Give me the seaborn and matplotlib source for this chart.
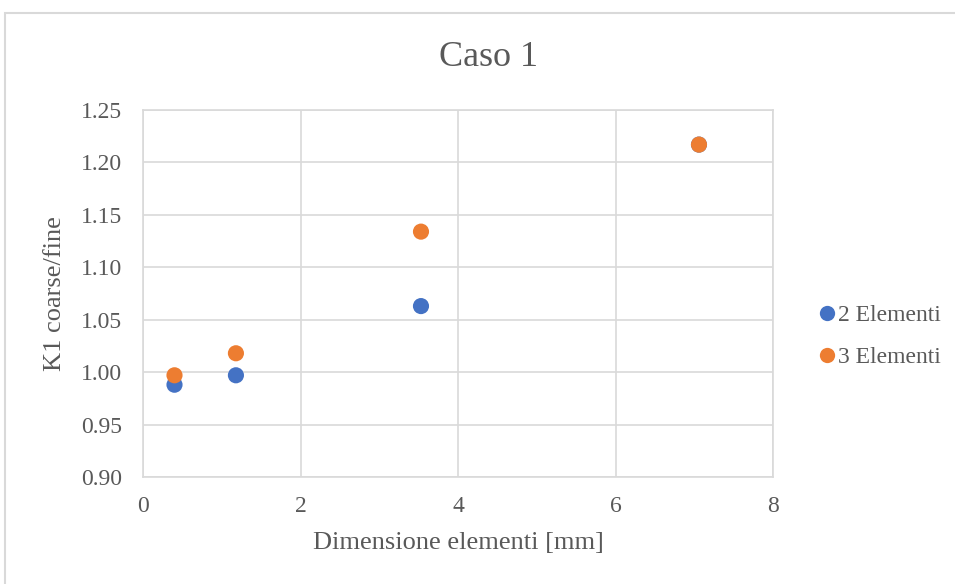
import matplotlib
matplotlib.use("Agg")
import matplotlib.pyplot as plt
import matplotlib.patches as mpatches
import seaborn as sns
import pandas as pd

# Element size [mm] and K1 ratio (coarse/fine) for each mesh
dim_2el = [0.40, 1.18, 3.53, 7.06]
k1_2el = [0.988, 0.997, 1.063, 1.217]
dim_3el = [0.40, 1.18, 3.53, 7.06]
k1_3el = [0.997, 1.018, 1.134, 1.217]
series_names = ["2 Elementi", "3 Elementi"]
x_ticks = [0, 2, 4, 6, 8]
y_ticks = [0.90, 0.95, 1.00, 1.05, 1.10, 1.15, 1.20, 1.25]

df = pd.DataFrame({
    "dim": dim_2el + dim_3el,
    "k1": k1_2el + k1_3el,
    "serie": [series_names[0]] * len(dim_2el) + [series_names[1]] * len(dim_3el),
})

sns.set_theme(style="white")
plt.rcParams["font.family"] = ["Liberation Serif", "DejaVu Serif"]
text_col = "#595959"
grid_col = "#d9d9d9"
colors = {series_names[0]: "#4472C4", series_names[1]: "#ED7D31"}

fig = plt.figure(figsize=(9.55, 5.84), dpi=100)
ax = fig.add_axes([143 / 955, 1 - 477 / 584, 630 / 955, 367 / 584])

sns.scatterplot(
    data=df, x="dim", y="k1", hue="serie", ax=ax, palette=colors,
    s=135, linewidth=0, zorder=3, legend=False,
)

ax.set_xlim(0, 8)
ax.set_ylim(0.90, 1.25)
ax.set_xticks(x_ticks)
ax.set_yticks(y_ticks)
ax.set_yticklabels([f"{v:.2f}" for v in y_ticks])
ax.grid(True, color=grid_col, linewidth=1.2, zorder=0)
for sp in ax.spines.values():
    sp.set_color(grid_col)
    sp.set_linewidth(1.2)
ax.tick_params(axis="both", colors=text_col, labelsize=17, length=0)
ax.tick_params(axis="y", pad=15)
ax.tick_params(axis="x", pad=14)

ax.set_xlabel("Dimensione elementi [mm]", fontsize=19, color=text_col, va="center")
ax.xaxis.set_label_coords(0.5, (477 - 543) / 367)
ax.set_ylabel("K1 coarse/fine", fontsize=19, color=text_col, va="center")
ax.yaxis.set_label_coords((55 - 143) / 630, 0.5)

fig.text(488 / 955, 1 - 58 / 584, "Caso 1", fontsize=26, color=text_col,
         ha="center", va="center")

handles = [
    plt.Line2D([], [], marker="o", linestyle="", markersize=11,
               markerfacecolor=colors[n], markeredgewidth=0)
    for n in series_names
]
leg = fig.legend(
    handles, series_names, loc="center left",
    bbox_to_anchor=(820 / 955, 1 - 336.5 / 584), frameon=False,
    borderpad=0, borderaxespad=0,
    fontsize=17, handlelength=0.6, handletextpad=0.17, labelspacing=0.85,
)
for t in leg.get_texts():
    t.set_color(text_col)

# Outer chart frame
fig.patches.append(mpatches.Rectangle(
    (5 / 955, -0.1), 1.2, 1 - 13 / 584 + 0.1, transform=fig.transFigure,
    fill=False, edgecolor=grid_col, linewidth=1.5,
))

fig.savefig("out.png", dpi=100, facecolor="white")
